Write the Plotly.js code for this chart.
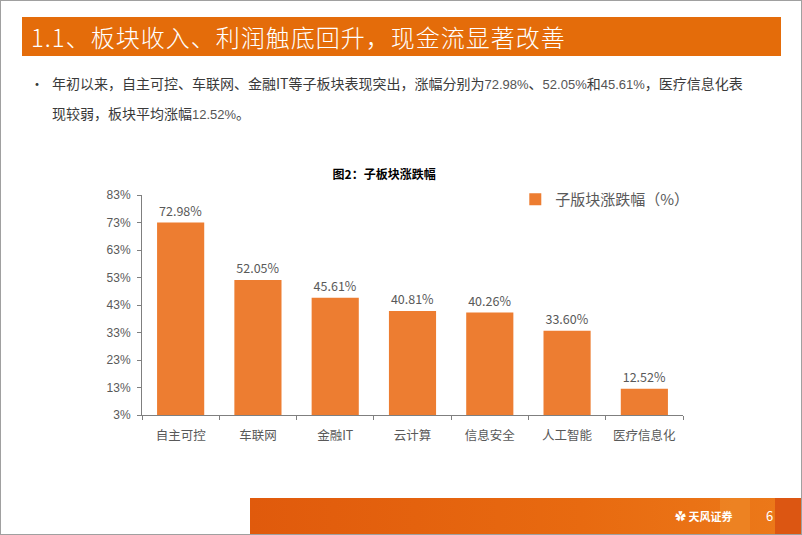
<!DOCTYPE html>
<html>
<head>
<meta charset="utf-8">
<script src="https://cdn.plot.ly/plotly-3.0.1.min.js"></script>
<style>
  html, body { margin:0; padding:0; background:#fff; }
  #page { position:relative; width:802px; height:535px; overflow:hidden; background:#fff; font-family:"Noto Sans CJK SC","Noto Sans",sans-serif; }
  #chart { position:absolute; left:0; top:0; width:802px; height:535px; }
  #border { position:absolute; left:0; top:0; width:800px; height:533px; border:1px solid #a0a0a0; pointer-events:none; }
  #header { position:absolute; left:22px; top:17px; width:759px; height:39px; background:#E46C0A; color:#fff; font-size:24px; font-weight:300; line-height:39px; padding-left:9px; box-sizing:border-box; white-space:nowrap; letter-spacing:1px; }
  #bullet { position:absolute; left:30px; top:69px; width:750px; font-size:14px; line-height:29px; color:#3a3a3a; }
  #bullet .dot { position:absolute; left:0; top:0; }
  #bullet .txt { position:absolute; left:22px; top:0; width:702px; }
  .num { font-family:"Liberation Sans","DejaVu Sans",sans-serif; font-size:13px; color:#555; }
  #footer { position:absolute; left:250px; top:498px; width:552px; height:37px; background:linear-gradient(90deg,#E05A0C 0%,#E86A10 60%,#EC7A1A 100%); }
  #footer .sq1 { position:absolute; left:470px; top:0; width:30px; height:37px; background:#EE8A2A; opacity:0.6; }
  #footer .sq2 { position:absolute; left:525px; top:0; width:27px; height:37px; background:#D84E10; opacity:0.8; }
  #footer .logo { position:absolute; left:425px; top:10px; color:#fff; font-size:11px; font-weight:bold; }
  #footer .pg { position:absolute; left:516px; top:8px; color:#fff; font-size:13px; }
</style>
</head>
<body>
<div id="page">
  <div id="chart"></div>
  <div id="header">1.1、板块收入、利润触底回升，现金流显著改善</div>
  <div id="bullet">
    <span class="dot">•</span>
    <div class="txt">年初以来，自主可控、车联网、金融IT等子板块表现突出，涨幅分别为<span class="num">72.98%</span>、<span class="num">52.05%</span>和<span class="num">45.61%</span>，医疗信息化表现较弱，板块平均涨幅<span class="num">12.52%</span>。</div>
  </div>
  <div id="footer">
    <div class="sq1"></div>
    <div class="sq2"></div>
    <div class="logo">✿ 天风证券</div>
    <div class="pg">6</div>
  </div>
  <div id="border"></div>
</div>
<script>
const categories = ["自主可控", "车联网", "金融IT", "云计算", "信息安全", "人工智能", "医疗信息化"];
const values = [72.98, 52.05, 45.61, 40.81, 40.26, 33.60, 12.52];
const valueLabels = ["72.98%", "52.05%", "45.61%", "40.81%", "40.26%", "33.60%", "12.52%"];
const yTickVals = [3, 13, 23, 33, 43, 53, 63, 73, 83];
const yTickText = ["3%", "13%", "23%", "33%", "43%", "53%", "63%", "73%", "83%"];
const seriesName = "子版块涨跌幅（%）";
const chartTitle = "图2：子板块涨跌幅";

const cjk = '"Noto Sans CJK SC","Noto Sans",sans-serif';
const trace = {
  type: "bar",
  x: categories,
  y: values.map(v => v - 3),
  base: 3,
  name: seriesName,
  marker: { color: "#ED7D31" },
  text: valueLabels,
  textposition: "outside",
  textfont: { family: cjk, size: 12.5, color: "#595959" },
  cliponaxis: false,
  hoverinfo: "none"
};
const layout = {
  width: 802, height: 535,
  margin: { l: 142, r: 119, t: 195, b: 120 },
  paper_bgcolor: "rgba(0,0,0,0)",
  plot_bgcolor: "rgba(0,0,0,0)",
  bargap: 0.39,
  title: { text: chartTitle, x: 0.479, xanchor: "center", y: 1 - 175/535, yanchor: "middle", xref: "container", yref: "container", font: { family: cjk, size: 12, color: "#000", weight: "bold" } },
  showlegend: true,
  legend: { x: 0.69, xanchor: "left", y: 0.98, yanchor: "middle", font: { family: cjk, size: 15, color: "#595959" }, bgcolor: "rgba(0,0,0,0)", itemwidth: 30 },
  xaxis: {
    type: "category",
    showline: true, linecolor: "#7f7f7f", linewidth: 1,
    ticks: "outside", tickson: "boundaries", ticklen: 4, tickcolor: "#7f7f7f",
    ticklabelstandoff: 9,
    tickfont: { family: cjk, size: 12.5, color: "#595959" },
    showgrid: false, zeroline: false, fixedrange: true
  },
  yaxis: {
    range: [3, 83],
    tickvals: yTickVals, ticktext: yTickText,
    showline: true, linecolor: "#7f7f7f", linewidth: 1,
    ticks: "outside", ticklen: 4, tickcolor: "#7f7f7f",
    ticklabelstandoff: 4,
    tickfont: { family: '"Liberation Sans", Arial, sans-serif', size: 12, color: "#595959" },
    showgrid: false, zeroline: false, fixedrange: true
  }
};
Plotly.newPlot("chart", [trace], layout, { staticPlot: true, displayModeBar: false });
</script>
</body>
</html>
